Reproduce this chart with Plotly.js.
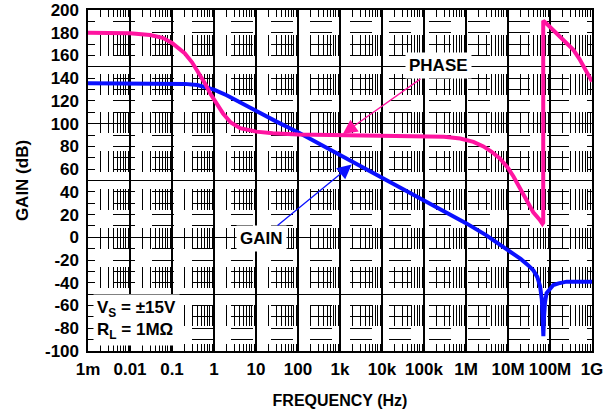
<!DOCTYPE html>
<html>
<head>
<meta charset="utf-8">
<script src="https://cdn.plot.ly/plotly-3.0.1.min.js"></script>
<style>html,body{margin:0;padding:0;background:#fff}#chart{width:614px;height:412px}</style>
</head>
<body>
<div id="chart"></div>
<script>
// ---- data ----
const gainFreq = [0.001, 0.01, 0.05, 0.1, 0.2, 0.4, 0.62, 1, 2, 4, 10, 30, 100, 300, 1000, 3000, 1e4, 3e4, 1e5, 3e5, 1e6, 3e6, 6e6, 1e7, 2e7, 3e7, 4e7, 5e7, 5.8e7, 6.4e7, 6.8e7, 6.95e7, 7.2e7, 7.6e7, 8.3e7, 1e8, 1.2e8, 1.6e8, 2.5e8, 5e8, 1e9];
const gainDb   = [135.5, 135.5, 135.5, 135.3, 135, 134, 132.5, 130, 125, 119, 111, 102, 92.5, 83, 72.5, 63, 52.5, 43, 33, 23, 12.5, 2, -5.5, -11, -19, -24.5, -29, -35, -43, -55, -70, -87, -70, -57, -49, -45, -42, -40.5, -39, -39, -39];

const phaseFreq = [0.001, 0.01, 0.03, 0.06, 0.1, 0.2, 0.3, 0.46, 0.62, 0.8, 1.2, 1.64, 2.5, 4.2, 10, 25, 100, 1000, 1e4, 1e5, 3e5, 7.3e5, 1.5e6, 2.6e6, 4e6, 6.4e6, 1e7, 1.35e7, 2e7, 2.7e7, 4e7, 5.8e7, 6.6e7, 6.9e7, 6.9e7, 8e7, 1e8, 1.5e8, 2.5e8, 3.6e8, 5e8, 7e8, 1e9];
const phaseDeg  = [180, 179.5, 178, 175.5, 171, 162, 154, 143, 135, 127, 117, 109, 101, 96, 93, 91.5, 90.5, 90, 90, 89.5, 88.5, 87, 84, 80, 75.5, 69.5, 61, 53.5, 42, 33, 22, 15, 12, 13, 190.5, 188.5, 185, 179, 171, 165, 157, 147, 137];

const xTickVals = [1e-3, 1e-2, 1e-1, 1, 10, 100, 1e3, 1e4, 1e5, 1e6, 1e7, 1e8, 1e9];
const xTickText = ['1m', '0.01', '0.1', '1', '10', '100', '1k', '10k', '100k', '1M', '10M', '100M', '1G'];
const yTickVals = [200, 180, 160, 140, 120, 100, 80, 60, 40, 20, 0, -20, -40, -60, -80, -100];
const yTickText = ['200', '180', '160', '140', '120', '100', '80', '60', '40', '20', '0', '-20', '-40', '-60', '-80', '-100'];
const decades = [-3, -2, -1, 0, 1, 2, 3, 4, 5, 6, 7, 8];
const minorMult = [2, 3, 4, 5, 6, 7, 8, 9];

// minor tick positions (2..9 per decade)
const minorX = [];
decades.forEach(d => minorMult.forEach(m => minorX.push(m * Math.pow(10, d))));

const MAG = '#ff14a0';
const BLUE = '#0a10ff';
const FONT = 'Arial, "Liberation Sans", Helvetica, sans-serif';

const traces = [
  {x: [1e-3], y: [0], yaxis: 'y2', type: 'scatter', mode: 'markers', marker: {opacity: 0}, hoverinfo: 'skip'},
  {x: gainFreq, y: gainDb, type: 'scatter', mode: 'lines', line: {color: BLUE, width: 4}, hoverinfo: 'skip'},
  {x: phaseFreq, y: phaseDeg, type: 'scatter', mode: 'lines', line: {color: MAG, width: 4}, hoverinfo: 'skip'}
];

const layout = {
  width: 614, height: 412,
  margin: {l: 88, r: 22, t: 10, b: 61},
  paper_bgcolor: '#fff', plot_bgcolor: '#fff',
  showlegend: false,
  font: {family: FONT, color: '#000', size: 17, weight: 'bold'},
  xaxis: {
    type: 'log', range: [-3, 9],
    tickmode: 'array', tickvals: xTickVals, ticktext: xTickText,
    tickfont: {family: FONT, size: 17, weight: 'bold', color: '#000'},
    ticks: 'outside', ticklen: 2, tickcolor: 'rgba(0,0,0,0)',
    showgrid: true, gridcolor: '#000', gridwidth: 1.3,
    showline: true, mirror: true, linecolor: '#000', linewidth: 1.6,
    zeroline: false,
    minor: {tickmode: 'array', tickvals: minorX, showgrid: true, gridcolor: '#000', gridwidth: 1,
            griddash: '7.4px,17.6px,13.6px,0px', ticks: ''},
    title: {text: 'FREQUENCY (Hz)', standoff: 17, font: {family: FONT, size: 16, weight: 'bold', color: '#000'}}
  },
  yaxis: {
    range: [-100, 200], tickmode: 'array', tickvals: yTickVals, ticktext: yTickText,
    tickfont: {family: FONT, size: 17, weight: 'bold', color: '#000'},
    ticks: 'outside', ticklen: 4, tickcolor: 'rgba(0,0,0,0)',
    showgrid: false, zeroline: false,
    showline: true, mirror: true, linecolor: '#000', linewidth: 1.6,
    title: {text: 'GAIN (dB)', standoff: 12, font: {family: FONT, size: 17, weight: 'bold', color: '#000'}}
  },
  yaxis2: {
    overlaying: 'y', range: [-100, 200], dtick: 50, tick0: 0,
    showticklabels: false, ticks: '', showgrid: true, gridcolor: '#000', gridwidth: 1.3,
    zeroline: false, showline: false,
    minor: {dtick: 10, showgrid: true, gridcolor: '#000', gridwidth: 1, griddash: '7px,17.5px,15px,0px', ticks: ''}
  },
  annotations: [
    {x: Math.log10(1170), y: 91, xref: 'x', yref: 'y', text: 'PHASE', showarrow: true,
     ax: 96, ay: -68, arrowcolor: MAG, arrowwidth: 1.3, arrowhead: 2, arrowsize: 2.2,
     bgcolor: '#fff', borderpad: 3, font: {family: FONT, size: 17, weight: 'bold', color: '#000'}},
    {x: Math.log10(1900), y: 64, xref: 'x', yref: 'y', text: 'GAIN', showarrow: true,
     ax: -90, ay: 74, arrowcolor: BLUE, arrowwidth: 1.3, arrowhead: 2, arrowsize: 2.2,
     bgcolor: '#fff', borderpad: 3, font: {family: FONT, size: 17, weight: 'bold', color: '#000'}},
    {x: 0.01, y: 0.09, xref: 'paper', yref: 'paper', xanchor: 'left', yanchor: 'middle', align: 'left',
     text: 'V<sub>S</sub> = ±15V<br>R<sub>L</sub> = 1MΩ', showarrow: false,
     bgcolor: '#fff', borderpad: 3, font: {family: FONT, size: 17, weight: 'bold', color: '#000'}}
  ]
};

Plotly.newPlot('chart', traces, layout, {staticPlot: true});
</script>
</body>
</html>
